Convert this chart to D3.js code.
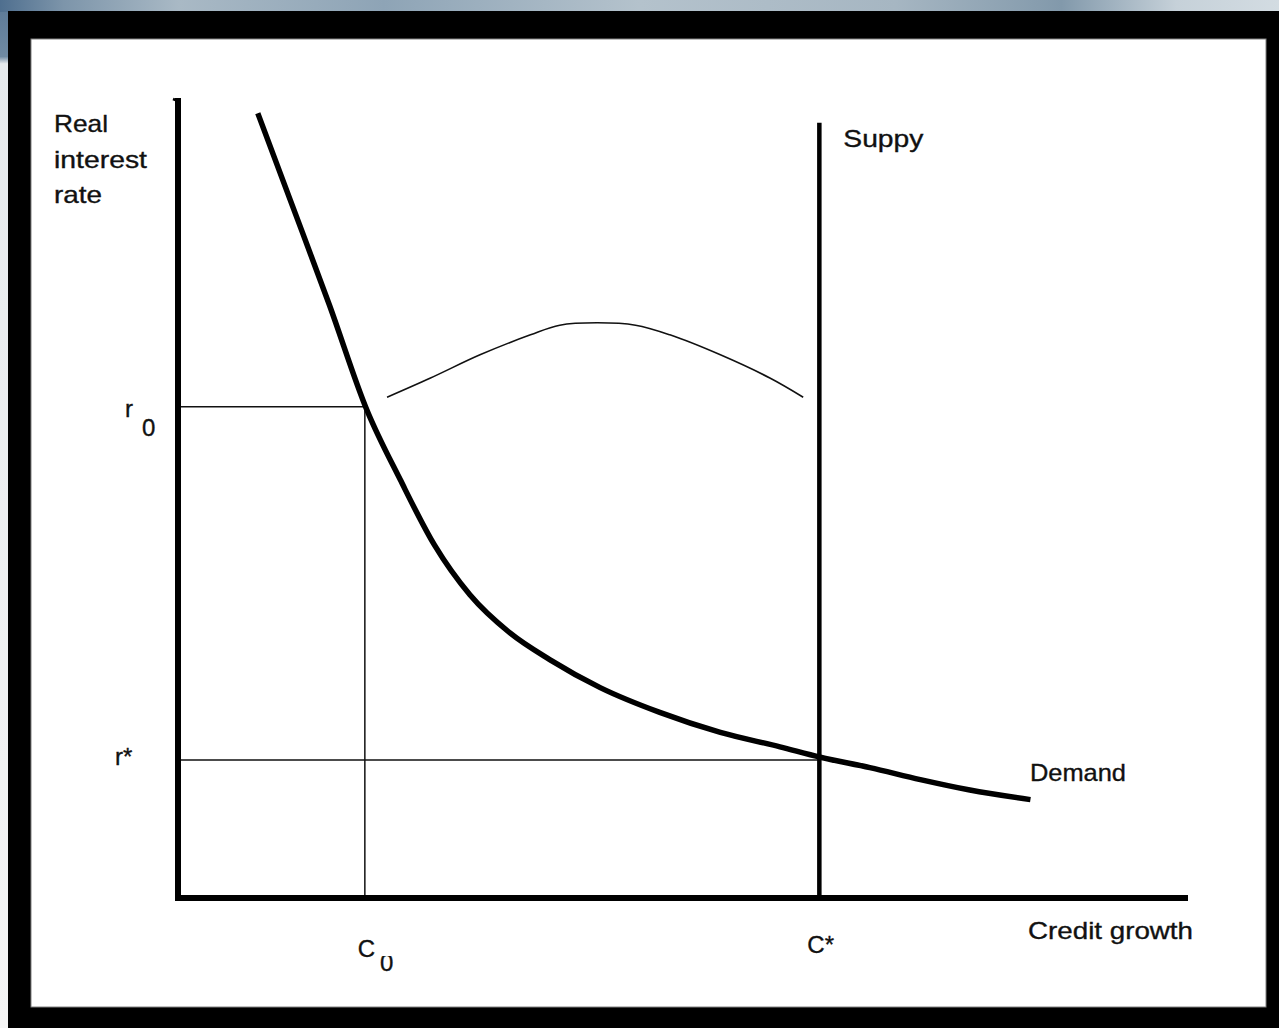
<!DOCTYPE html>
<html>
<head>
<meta charset="utf-8">
<script src="https://cdn.jsdelivr.net/npm/d3@7"></script>
<style>
  html, body { margin: 0; padding: 0; background: #f2f3f4; }
  svg { display: block; }
  text { font-family: "Liberation Sans", Arial, sans-serif; fill: #111; stroke: #111; stroke-width: 0.35px; }
</style>
</head>
<body>
<script>
// ---- data (domain units: credit growth 0..100, real interest rate 0..100) ----
const demandX = [7.9, 11.1, 15.0, 18.7, 22.0, 25.4, 28.9, 32.9, 36.8, 41.8, 47.7, 53.7, 59.6, 63.6, 68.5, 73.5, 78.4, 84.4];
const demandY = [98.1, 87.3, 74.1, 61.0, 52.3, 44.1, 37.9, 33.1, 29.8, 26.3, 23.2, 20.7, 18.9, 17.6, 16.3, 14.8, 13.5, 12.3];
const humpX = [20.7, 25.0, 29.9, 34.9, 37.8, 41.5, 45.3, 48.7, 53.7, 58.6, 61.9];
const humpY = [62.6, 65.0, 67.9, 70.4, 71.6, 71.9, 71.6, 70.4, 67.9, 65.0, 62.6];
const rZero = 61.4, cZero = 18.5, rStar = 17.25, cStar = 63.5, supplyTop = 96.9;
const yTitleLines = ["Real", "interest", "rate"];
const xTitle = "Credit growth";
const supplyLabel = "Suppy";
const demandLabel = "Demand";
const rZeroLabel = ["r", "0"];
const rStarLabel = "r*";
const cZeroLabel = ["C", "0"];
const cStarLabel = "C*";

const W = 1279, H = 1028;
const svg = d3.select("body").append("svg").attr("width", W).attr("height", H);
const defs = svg.append("defs");

// slide background strips
const gTop = defs.append("linearGradient").attr("id", "gTop").attr("x1", 0).attr("x2", 1).attr("y1", 0).attr("y2", 0);
[[0, "#4f6f8f"], [0.05, "#7d95aa"], [0.14, "#a9b9c5"], [0.3, "#8ea4b6"], [0.5, "#b4c2cc"], [0.7, "#a6b6c2"], [0.83, "#8299ab"], [0.92, "#c6d1d9"], [1, "#d3dce2"]]
  .forEach(([o, c]) => gTop.append("stop").attr("offset", o).attr("stop-color", c));
const gLeft = defs.append("linearGradient").attr("id", "gLeft").attr("x1", 0).attr("x2", 0).attr("y1", 0).attr("y2", 1);
[[0, "#5a7896"], [0.055, "#6f8aa3"], [0.062, "#e6eaed"], [1, "#f5f5f5"]]
  .forEach(([o, c]) => gLeft.append("stop").attr("offset", o).attr("stop-color", c));
svg.append("rect").attr("x", 0).attr("y", 0).attr("width", W).attr("height", H).attr("fill", "url(#gLeft)");
svg.append("rect").attr("x", 0).attr("y", 0).attr("width", W).attr("height", 12).attr("fill", "url(#gTop)");

// black frame + white panel
svg.append("rect").attr("x", 8).attr("y", 11).attr("width", W - 8).attr("height", H - 11).attr("fill", "#000");
svg.append("rect").attr("x", 31).attr("y", 39).attr("width", 1235).attr("height", 968)
  .attr("fill", "#fff").attr("stroke", "#808080").attr("stroke-width", 1);

// scales
const x = d3.scaleLinear().domain([0, 100]).range([178, 1188]);
const y = d3.scaleLinear().domain([0, 100]).range([898, 98]);

const g = svg.append("g");
const thin = { stroke: "#111", w: 1.5 };

// guide lines
g.append("line").attr("x1", x(0)).attr("x2", x(cZero)).attr("y1", y(rZero)).attr("y2", y(rZero))
  .attr("stroke", thin.stroke).attr("stroke-width", thin.w);
g.append("line").attr("x1", x(cZero)).attr("x2", x(cZero)).attr("y1", y(rZero)).attr("y2", y(0))
  .attr("stroke", thin.stroke).attr("stroke-width", thin.w);
g.append("line").attr("x1", x(0)).attr("x2", x(cStar)).attr("y1", y(rStar)).attr("y2", y(rStar))
  .attr("stroke", thin.stroke).attr("stroke-width", thin.w);

// hump curve
const humpData = humpX.map((v, i) => [v, humpY[i]]);
g.append("path").datum(humpData)
  .attr("d", d3.line().x(d => x(d[0])).y(d => y(d[1])).curve(d3.curveCatmullRom))
  .attr("fill", "none").attr("stroke", "#111").attr("stroke-width", 1.6);

// supply line
g.append("line").attr("x1", x(cStar)).attr("x2", x(cStar)).attr("y1", y(0)).attr("y2", y(supplyTop))
  .attr("stroke", "#000").attr("stroke-width", 4.5);

// demand curve
const demandData = demandX.map((v, i) => [v, demandY[i]]);
g.append("path").datum(demandData)
  .attr("d", d3.line().x(d => x(d[0])).y(d => y(d[1])).curve(d3.curveMonotoneX))
  .attr("fill", "none").attr("stroke", "#000").attr("stroke-width", 5.5).attr("stroke-linecap", "butt");

// axes
g.append("line").attr("x1", x(0)).attr("x2", x(0)).attr("y1", y(0) + 3).attr("y2", y(100))
  .attr("stroke", "#000").attr("stroke-width", 6);
g.append("line").attr("x1", x(0) - 3).attr("x2", x(100)).attr("y1", y(0)).attr("y2", y(0))
  .attr("stroke", "#000").attr("stroke-width", 6);
// little hook at top of y axis
g.append("line").attr("x1", x(0) - 5).attr("x2", x(0)).attr("y1", y(100) + 1).attr("y2", y(100) + 3)
  .attr("stroke", "#000").attr("stroke-width", 2.5);

// labels
const fs = 24;
const yTitleWidths = [54, 93, 48];
yTitleLines.forEach((t, i) => {
  svg.append("text").attr("x", 54).attr("y", 132 + i * 35.5).attr("font-size", fs)
    .attr("textLength", yTitleWidths[i]).attr("lengthAdjust", "spacingAndGlyphs").text(t);
});
svg.append("text").attr("x", 1028).attr("y", 939).attr("font-size", fs)
  .attr("textLength", 165).attr("lengthAdjust", "spacingAndGlyphs").text(xTitle);
svg.append("text").attr("x", x(cStar) + 24).attr("y", 147).attr("font-size", fs)
  .attr("textLength", 80).attr("lengthAdjust", "spacingAndGlyphs").text(supplyLabel);
svg.append("text").attr("x", 1030).attr("y", 781).attr("font-size", fs)
  .attr("textLength", 96).attr("lengthAdjust", "spacingAndGlyphs").text(demandLabel);

// r0
svg.append("text").attr("x", 125).attr("y", y(rZero) + 10).attr("font-size", fs).text(rZeroLabel[0]);
svg.append("text").attr("x", 142).attr("y", y(rZero) + 29).attr("font-size", fs).text(rZeroLabel[1]);
// r*
svg.append("text").attr("x", 115).attr("y", y(rStar) + 5).attr("font-size", fs).text(rStarLabel);
// C0 (subscript clipped at top as in the original)
svg.append("text").attr("x", x(cZero) - 7).attr("y", 957).attr("font-size", fs).text(cZeroLabel[0]);
defs.append("clipPath").attr("id", "clipSub").append("rect")
  .attr("x", 370).attr("y", 956).attr("width", 40).attr("height", 30);
svg.append("text").attr("x", 380).attr("y", 971).attr("font-size", fs)
  .attr("clip-path", "url(#clipSub)").text(cZeroLabel[1]);
// C*
svg.append("text").attr("x", x(cStar) - 12).attr("y", 953).attr("font-size", fs).text(cStarLabel);
</script>
</body>
</html>
